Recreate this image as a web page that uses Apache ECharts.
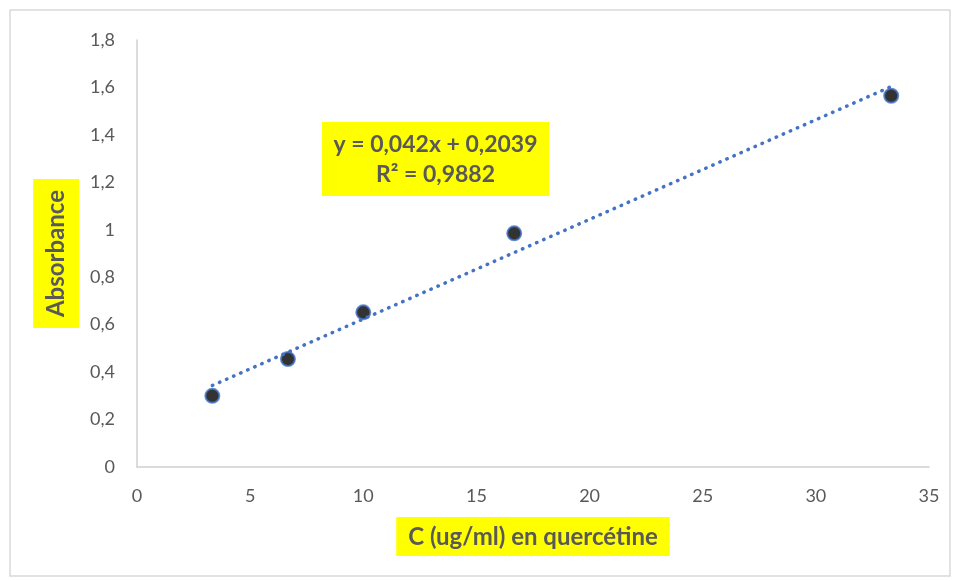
<!DOCTYPE html>
<html><head><meta charset="utf-8">
<script src="https://cdn.jsdelivr.net/npm/echarts@6/dist/echarts.min.js"></script>
<style>html,body{margin:0;padding:0;background:#fff}#c{width:956px;height:581px}</style>
</head><body><div id="c"></div>
<script>
const concentrations = [3.33, 6.67, 10, 16.67, 33.33];
const absorbances = [0.30, 0.455, 0.652, 0.985, 1.565];
const slope = 0.042, intercept = 0.2039;
const trendX = [3.33, 33.33];
const xTitle = 'C (ug/ml) en quercétine';
const yTitle = 'Absorbance';
const equation = 'y = 0,042x + 0,2039';
const rsq = 'R² = 0,9882';

const font = 'Lato, "Liberation Sans", sans-serif';
const chart = echarts.init(document.getElementById('c'));
chart.setOption({
  animation: false,
  grid: {left: 137, right: 27, top: 40, bottom: 114},
  xAxis: {
    type: 'value', min: 0, max: 35, interval: 5,
    axisLine: {show: true, lineStyle: {color: '#d0d0d0', width: 1.5}},
    axisTick: {show: false}, splitLine: {show: false},
    axisLabel: {color: '#595959', fontSize: 18, fontFamily: font, margin: 20},
    name: xTitle, nameLocation: 'middle', nameGap: 50,
    nameTextStyle: {color: '#595959', fontSize: 24, fontWeight: 'bold', fontFamily: font,
      backgroundColor: '#ffff00', padding: [8, 12, 7, 12]}
  },
  yAxis: {
    type: 'value', min: 0, max: 1.8, interval: 0.2,
    axisLine: {show: true, lineStyle: {color: '#d0d0d0', width: 1.5}},
    axisTick: {show: false}, splitLine: {show: false},
    axisLabel: {color: '#595959', fontSize: 18, fontFamily: font, margin: 22,
      formatter: v => String(Math.round(v * 10) / 10).replace('.', ',')},
    name: yTitle, nameLocation: 'middle', nameGap: 46, nameRotate: 90,
    nameTextStyle: {color: '#595959', fontSize: 24, fontWeight: 'bold', fontFamily: font,
      backgroundColor: '#ffff00', padding: [11, 11, 11, 11]}
  },
  series: [
    {
      type: 'line', data: trendX.map(x => [x, slope * x + intercept]),
      symbol: 'none', silent: true,
      lineStyle: {color: '#4472C4', width: 3.5, type: [0.5, 7.2], cap: 'round'}
    },
    {
      type: 'scatter', data: concentrations.map((x, i) => [x, absorbances[i]]),
      symbolSize: 14,
      itemStyle: {color: '#000000', borderColor: '#4472C4', borderWidth: 2}
    }
  ],
  graphic: [
    {type: 'rect', x: 10, y: 10, shape: {x: 0, y: 0, width: 940, height: 566},
      style: {fill: 'none', stroke: '#d9d9d9', lineWidth: 1.5}, z: -1},
    {type: 'rect', x: 322, y: 122, shape: {x: 0, y: 0, width: 227, height: 74},
      style: {fill: '#ffff00'}, z: 10},
    {type: 'text', x: 435.5, y: 130, z: 11,
      style: {text: equation + '\n' + rsq, fill: '#595959', font: 'bold 23px ' + font,
        align: 'center', textAlign: 'center', lineHeight: 30}}
  ]
});
</script></body></html>
